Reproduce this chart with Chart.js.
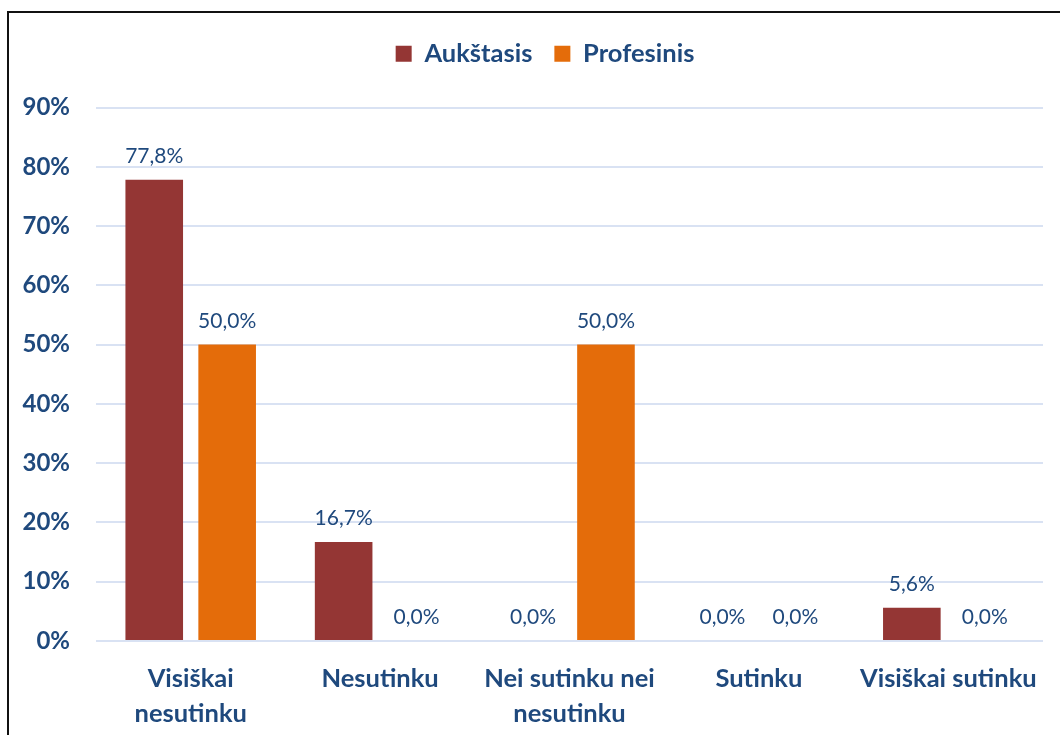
<!DOCTYPE html>
<html>
<head>
<meta charset="utf-8">
<script src="https://cdn.jsdelivr.net/npm/chart.js@4/dist/chart.umd.min.js"></script>
<style>
    html, body { margin: 0; padding: 0; background: #fff; }
    #frame {
        position: absolute;
        left: 7px;
        top: 11px;
        width: 1053px;
        height: 724px;
        border-top: 2px solid #111;
        border-left: 2px solid #111;
    }
    #wrap { position: relative; width: 1051px; height: 722px; }
</style>
</head>
<body>
<div id="frame"><div id="wrap"><canvas id="chart"></canvas></div></div>
<script>
const categories = [
    ['Visiškai', 'nesutinku'],
    'Nesutinku',
    ['Nei sutinku nei', 'nesutinku'],
    'Sutinku',
    'Visiškai sutinku'
];
const seriesNames = ['Aukštasis', 'Profesinis'];
const aukstasis  = [77.8, 16.7, 0, 0, 5.6];
const profesinis = [50.0, 0, 50.0, 0, 0];

const FONT = 'Lato';
const ink  = '#1F497D';
const grid = '#D9E2F3';
const red  = '#943634';
const orange = '#E46C0A';

function pct(v) {
    return v.toFixed(1).replace('.', ',') + '%';
}

// étiquettes au-dessus des barres, positionnées d'après les éléments de Chart.js
const barLabels = {
    id: 'barLabels',
    afterDatasetsDraw(chart) {
        const ctx = chart.ctx;
        ctx.save();
        ctx.font = '21px ' + FONT;
        ctx.fillStyle = ink;
        ctx.textAlign = 'center';
        ctx.textBaseline = 'alphabetic';
        chart.data.datasets.forEach((ds, i) => {
            chart.getDatasetMeta(i).data.forEach((bar, j) => {
                ctx.fillText(pct(ds.data[j]), bar.x, bar.y - 17);
            });
        });
        ctx.restore();
    }
};

// légende : plus d'espace dessous, et centrée un peu à droite comme l'original
const legendTweak = {
    id: 'legendTweak',
    beforeInit(chart) {
        const legend = chart.legend;
        const fit = legend.fit;
        const draw = legend.draw;
        legend.fit = function () {
            fit.call(this);
            this.height += 31;
        };
        legend.draw = function () {
            this.ctx.save();
            this.ctx.translate(19, 0);
            draw.call(this);
            this.ctx.restore();
        };
    }
};

new Chart(document.getElementById('chart'), {
    type: 'bar',
    data: {
        labels: categories,
        datasets: [
            { label: seriesNames[0], data: aukstasis, backgroundColor: red },
            { label: seriesNames[1], data: profesinis, backgroundColor: orange }
        ]
    },
    options: {
        responsive: true,
        maintainAspectRatio: false,
        animation: false,
        layout: { padding: { top: 6, right: 17, bottom: 0, left: 0 } },
        categoryPercentage: 0.77,
        barPercentage: 0.79,
        plugins: {
            legend: {
                position: 'top',
                labels: {
                    boxWidth: 16,
                    boxHeight: 16,
                    padding: 22,
                    color: ink,
                    font: { family: FONT, size: 25.5, weight: 'bold' }
                }
            },
            tooltip: { enabled: false }
        },
        scales: {
            x: {
                afterFit(scale) { scale.height = 94; },
                grid: { display: false, drawTicks: false },
                border: { display: false },
                ticks: {
                    color: ink,
                    padding: 21,
                    maxRotation: 0,
                    autoSkip: false,
                    font: { family: FONT, size: 25.5, weight: 'bold', lineHeight: 1.35 }
                }
            },
            y: {
                min: 0,
                max: 90,
                afterFit(scale) { scale.width = 87; },
                grid: { color: grid, lineWidth: 2, drawTicks: false },
                border: { display: false },
                ticks: {
                    stepSize: 10,
                    padding: 26,
                    color: ink,
                    font: { family: FONT, size: 24, weight: 'bold' },
                    callback: v => v + '%'
                }
            }
        }
    },
    plugins: [barLabels, legendTweak]
});
</script>
</body>
</html>
